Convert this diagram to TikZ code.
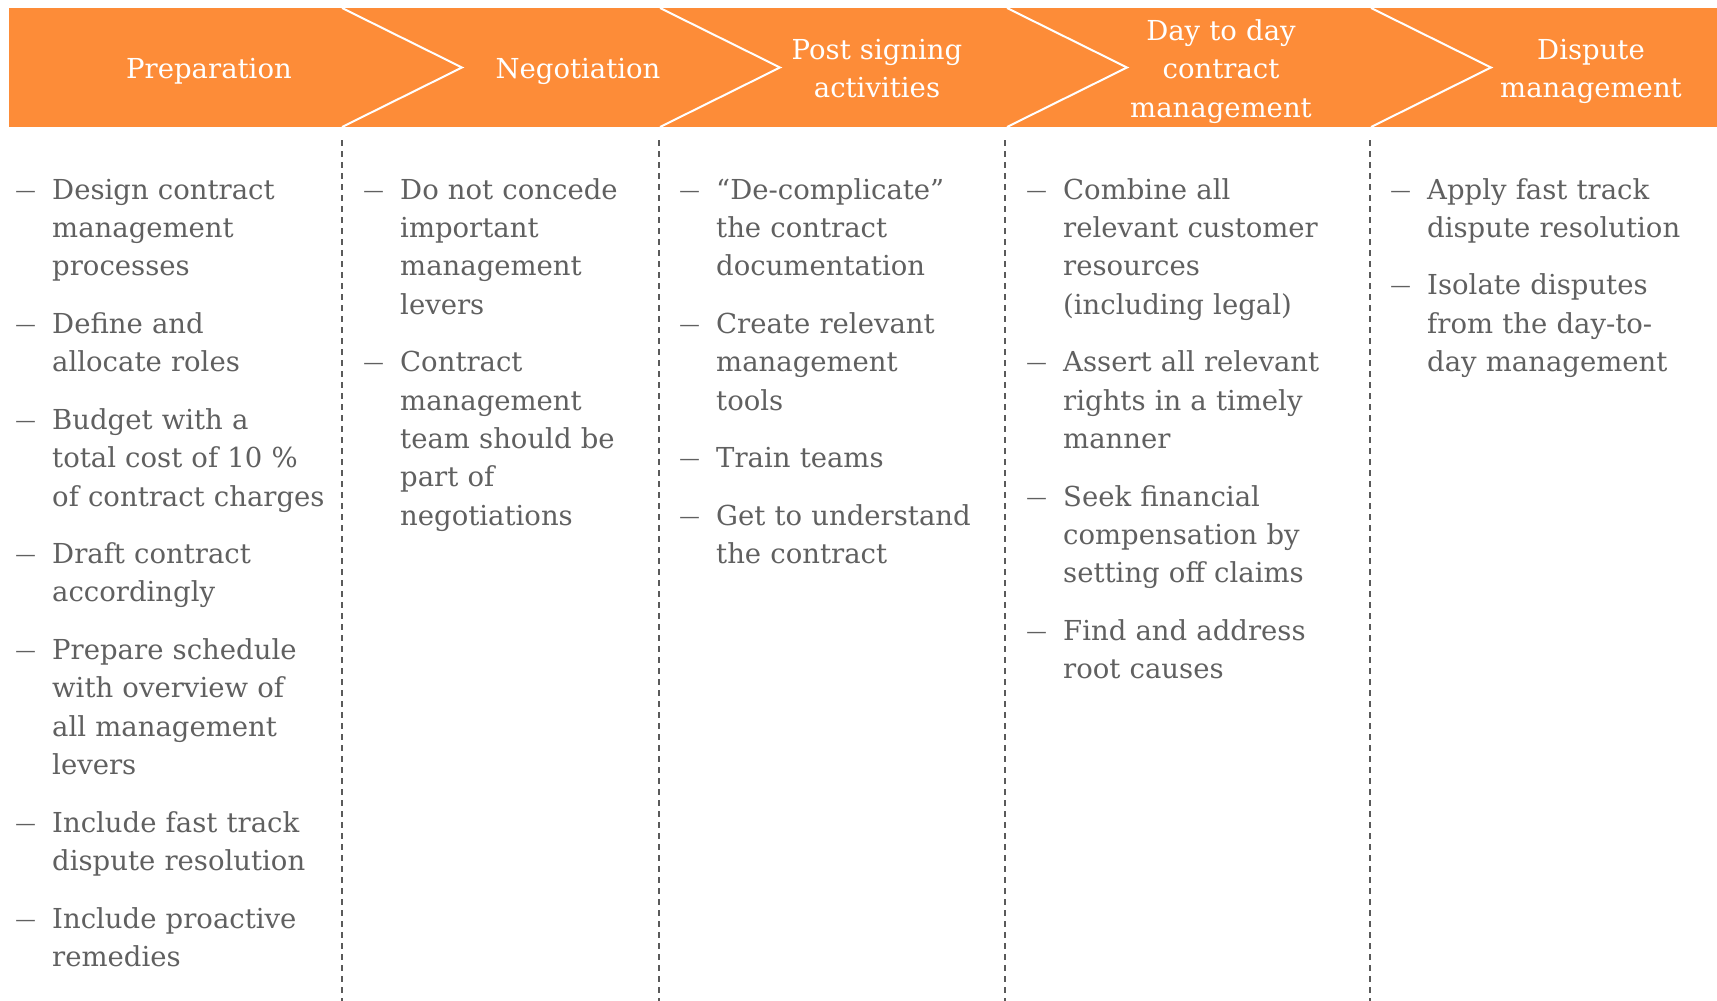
\documentclass[tikz,border=0pt]{standalone}
\usepackage{fontspec}
\setmainfont{DejaVu Serif}
\usetikzlibrary{positioning}

\definecolor{banner}{RGB}{253,140,56}
\definecolor{bodygray}{RGB}{96,96,96}
\definecolor{rulegray}{RGB}{90,90,90}

\newcommand{\bodyfont}{\fontsize{27.5}{38.4}\selectfont}

\tikzset{
  phase/.style={text=white, text width=300pt, align=center, font=\bodyfont, inner sep=0pt, anchor=base},
  itemtext/.style={text=bodygray, font=\bodyfont, text width=280pt, align=left, inner sep=0pt, anchor=north west},
  itemdash/.style={text=bodygray, font=\fontsize{20.5}{20.5}\selectfont, inner sep=0pt, anchor=base east},
  divider/.style={rulegray, line width=1.5pt, dash pattern=on 6pt off 5pt},
}

\begin{document}
\begin{tikzpicture}[x=1pt, y=-1pt]
 \useasboundingbox (0,0) rectangle (1717,1001);
 \def\gap{18.7pt}

 %banner 
 \fill[banner] (9,8) rectangle (1717,127);
 \foreach \x in {342,660,1007,1371} {
         \draw[white, line width=2pt] (\x,8) -- (\x+120,67.5) -- (\x,127);
 }

 \node[phase] (prep) at (209,78.5) {Preparation};
 \node[phase] (nego) at (578,78.5) {Negotiation};
 \node[phase] (post) at (877,59.5) {Post signing\\activities};
 \node[phase] (daily) at (1221,40.5) {Day to day\\contract\\management};
 \node[phase] (dispute) at (1591,59.5) {Dispute\\management};

 %dividers
 \foreach \x in {342,659,1005,1370} {
         \draw[divider] (\x,140) -- (\x,1001);
 }

 %column 1 
 \def\dx{52}
 \node[itemtext] (c1a) at (\dx,172) {\strut Design contract\\management\\processes\strut};
 \node[itemtext, below=\gap of c1a] (c1b) {\strut Define and\\allocate roles\strut};
 \node[itemtext, below=\gap of c1b] (c1c) {\strut Budget with a\\total cost of 10 \%\\of contract charges\strut};
 \node[itemtext, below=\gap of c1c] (c1d) {\strut Draft contract\\accordingly\strut};
 \node[itemtext, below=\gap of c1d] (c1e) {\strut Prepare schedule\\with overview of\\all management\\levers\strut};
 \node[itemtext, below=\gap of c1e] (c1f) {\strut Include fast track\\dispute resolution\strut};
 \node[itemtext, below=\gap of c1f] (c1g) {\strut Include proactive\\remedies\strut};
 \foreach \n in {a,b,c,d,e,f,g} {
         \node[itemdash] (c1\n dash) at ([xshift=-16pt, yshift=2pt]c1\n.base west) {—};
 }

 %column 2 
 \def\dx{400}
 \node[itemtext] (c2a) at (\dx,172) {\strut Do not concede\\important\\management\\levers\strut};
 \node[itemtext, below=\gap of c2a] (c2b) {\strut Contract\\management\\team should be\\part of\\negotiations\strut};
 \foreach \n in {a,b} {
         \node[itemdash] (c2\n dash) at ([xshift=-16pt, yshift=2pt]c2\n.base west) {—};
 }

 %column 3 
 \def\dx{716}
 \node[itemtext] (c3a) at (\dx,172) {\strut “De-complicate”\\the contract\\documentation\strut};
 \node[itemtext, below=\gap of c3a] (c3b) {\strut Create relevant\\management\\tools\strut};
 \node[itemtext, below=\gap of c3b] (c3c) {\strut Train teams\strut};
 \node[itemtext, below=\gap of c3c] (c3d) {\strut Get to understand\\the contract\strut};
 \foreach \n in {a,b,c,d} {
         \node[itemdash] (c3\n dash) at ([xshift=-16pt, yshift=2pt]c3\n.base west) {—};
 }

 %column 4 
 \def\dx{1063}
 \node[itemtext] (c4a) at (\dx,172) {\strut Combine all\\relevant customer\\resources\\(including legal)\strut};
 \node[itemtext, below=\gap of c4a] (c4b) {\strut Assert all relevant\\rights in a timely\\manner\strut};
 \node[itemtext, below=\gap of c4b] (c4c) {\strut Seek financial\\compensation by\\setting off claims\strut};
 \node[itemtext, below=\gap of c4c] (c4d) {\strut Find and address\\root causes\strut};
 \foreach \n in {a,b,c,d} {
         \node[itemdash] (c4\n dash) at ([xshift=-16pt, yshift=2pt]c4\n.base west) {—};
 }

 %column 5 
 \def\dx{1427}
 \node[itemtext] (c5a) at (\dx,172) {\strut Apply fast track\\dispute resolution\strut};
 \node[itemtext, below=\gap of c5a] (c5b) {\strut Isolate disputes\\from the day-to-\\day management\strut};
 \foreach \n in {a,b} {
         \node[itemdash] (c5\n dash) at ([xshift=-16pt, yshift=2pt]c5\n.base west) {—};
 }

\end{tikzpicture}
\end{document}
